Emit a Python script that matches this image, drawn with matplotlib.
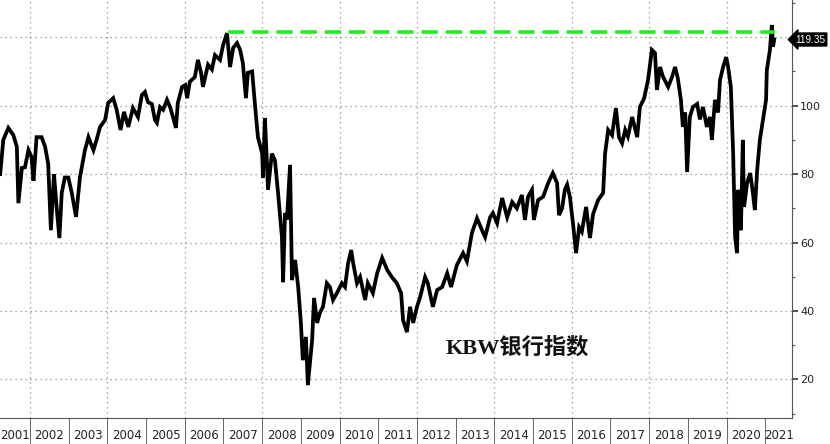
import matplotlib
matplotlib.use("Agg")
import matplotlib.pyplot as plt
import matplotlib.transforms as mtransforms

# KBW bank index (decimal year, index level)
years = [
    2001.23, 2001.31, 2001.44, 2001.57, 2001.66, 2001.70, 2001.79, 2001.87, 2001.96, 2002.04,
    2002.09, 2002.17, 2002.30, 2002.39, 2002.47, 2002.54, 2002.62, 2002.69, 2002.76, 2002.82,
    2002.90, 2002.99, 2003.08, 2003.19, 2003.29, 2003.42, 2003.51, 2003.64, 2003.72, 2003.81,
    2003.94, 2004.02, 2004.15, 2004.24, 2004.34, 2004.43, 2004.54, 2004.66, 2004.79, 2004.89,
    2004.97, 2005.05, 2005.15, 2005.23, 2005.28, 2005.36, 2005.44, 2005.54, 2005.62, 2005.70,
    2005.77, 2005.82, 2005.93, 2006.01, 2006.06, 2006.13, 2006.26, 2006.34, 2006.42, 2006.47,
    2006.60, 2006.70, 2006.78, 2006.91, 2006.99, 2007.09, 2007.17, 2007.25, 2007.35, 2007.43,
    2007.50, 2007.58, 2007.63, 2007.74, 2007.81, 2007.89, 2008.00, 2008.02, 2008.07, 2008.12,
    2008.15, 2008.25, 2008.33, 2008.41, 2008.51, 2008.54, 2008.59, 2008.64, 2008.72, 2008.77,
    2008.85, 2008.93, 2009.00, 2009.05, 2009.13, 2009.18, 2009.29, 2009.34, 2009.42, 2009.49,
    2009.57, 2009.67, 2009.75, 2009.83, 2009.93, 2010.06, 2010.14, 2010.22, 2010.30, 2010.35,
    2010.45, 2010.53, 2010.66, 2010.73, 2010.86, 2010.97, 2011.10, 2011.23, 2011.35, 2011.48,
    2011.59, 2011.64, 2011.74, 2011.82, 2011.90, 2012.00, 2012.08, 2012.21, 2012.28, 2012.41,
    2012.52, 2012.65, 2012.78, 2012.88, 2013.03, 2013.19, 2013.29, 2013.42, 2013.55, 2013.68,
    2013.76, 2013.89, 2013.96, 2014.07, 2014.20, 2014.33, 2014.46, 2014.58, 2014.71, 2014.79,
    2014.87, 2014.97, 2015.02, 2015.13, 2015.26, 2015.39, 2015.51, 2015.62, 2015.67, 2015.75,
    2015.82, 2015.88, 2015.95, 2016.03, 2016.11, 2016.19, 2016.26, 2016.37, 2016.47, 2016.55,
    2016.68, 2016.81, 2016.86, 2016.94, 2017.04, 2017.14, 2017.22, 2017.30, 2017.38, 2017.45,
    2017.56, 2017.69, 2017.76, 2017.87, 2017.97, 2018.07, 2018.15, 2018.20, 2018.28, 2018.36,
    2018.49, 2018.59, 2018.67, 2018.74, 2018.82, 2018.87, 2018.93, 2018.98, 2019.05, 2019.13,
    2019.24, 2019.31, 2019.39, 2019.49, 2019.57, 2019.62, 2019.70, 2019.78, 2019.83, 2019.91,
    2019.99, 2020.04, 2020.11, 2020.17, 2020.22, 2020.27, 2020.30, 2020.37, 2020.42, 2020.45,
    2020.53, 2020.61, 2020.68, 2020.73, 2020.79, 2020.86, 2020.94, 2021.02, 2021.04, 2021.12,
    2021.17, 2021.20, 2021.23,
]
kbw = [
    80.0, 90.0, 93.5, 91.4, 88.0, 71.5, 81.8, 82.0, 87.0, 85.0,
    78.0, 90.8, 90.8, 88.0, 83.0, 63.6, 80.0, 70.0, 61.3, 74.5,
    79.0, 79.0, 74.5, 67.5, 79.0, 87.0, 90.8, 87.0, 90.0, 93.8,
    95.8, 100.8, 102.2, 98.8, 92.9, 98.2, 93.8, 99.3, 96.7, 103.1,
    104.0, 101.0, 100.5, 95.8, 95.0, 99.6, 98.8, 101.7, 99.6, 96.5,
    93.5, 100.8, 105.5, 106.0, 102.2, 107.0, 108.4, 113.4, 109.6, 105.5,
    112.0, 110.6, 114.8, 113.4, 117.7, 121.2, 111.3, 116.9, 118.3, 116.3,
    112.5, 102.2, 109.6, 110.0, 100.8, 90.8, 86.0, 79.0, 96.4, 84.0,
    75.4, 86.0, 84.0, 74.5, 61.6, 48.4, 68.6, 66.7, 82.7, 49.0,
    54.9, 47.0, 36.5, 25.6, 32.4, 18.3, 31.5, 43.8, 36.5, 39.4,
    41.2, 48.1, 47.0, 43.2, 45.2, 48.1, 47.0, 54.0, 57.8, 54.0,
    48.1, 49.9, 43.2, 48.1, 45.2, 51.0, 55.5, 52.0, 49.9, 48.1,
    45.2, 37.3, 33.8, 41.2, 36.5, 41.2, 44.0, 49.9, 48.1, 41.2,
    46.1, 47.0, 51.0, 47.0, 53.4, 56.9, 54.5, 62.8, 67.1, 63.6,
    61.6, 67.4, 68.6, 65.7, 73.0, 67.4, 71.8, 70.0, 73.9, 66.6,
    73.4, 75.4, 66.6, 72.4, 73.4, 77.4, 80.3, 77.4, 68.0, 70.0,
    75.4, 76.9, 73.4, 65.7, 56.9, 64.5, 63.2, 70.4, 61.3, 68.3,
    72.4, 74.5, 86.0, 92.9, 91.4, 99.3, 90.8, 89.0, 92.9, 91.0,
    96.7, 90.8, 99.6, 102.2, 107.5, 116.3, 115.4, 104.6, 111.3, 108.4,
    105.5, 108.4, 111.3, 108.0, 101.7, 93.8, 98.0, 80.6, 96.7, 99.6,
    100.5, 96.0, 99.6, 93.8, 96.7, 90.0, 101.7, 98.0, 107.5, 111.3,
    114.2, 111.3, 105.5, 86.0, 61.6, 56.9, 75.4, 63.6, 90.0, 70.4,
    77.4, 80.3, 74.5, 69.5, 81.2, 90.0, 95.8, 101.7, 110.4, 116.3,
    123.6, 117.2, 119.35,
]
prev_high = 121.5
high_start, high_end = 2007.12, 2021.25
last_value = 119.35
label_years = list(range(2001, 2022))
y_major = [20, 40, 60, 80, 100, 120]
y_minor = [10, 30, 50, 70, 90, 110, 130]

fig = plt.figure(figsize=(8.30, 4.44), dpi=100)
ax = fig.add_axes([0.0, 0.0586, 0.9542, 0.9414])

ax.plot(years, kbw, color="black", lw=2.7, solid_joinstyle="miter", zorder=3)
ax.hlines(prev_high, high_start, high_end, colors="#22ee22", lw=2.6,
          linestyles=(0, (4.5, 2.2)), zorder=4)

ax.set_xlim(2001.225, 2021.69)
ax.set_ylim(8.7, 130.9)

for s in ["left", "top"]:
    ax.spines[s].set_visible(False)
ax.spines["right"].set_color("#555555")
ax.spines["bottom"].set_color("#555555")

# grid
for v in y_major:
    ax.axhline(v, color="#888888", lw=0.9, ls=(0, (1, 3)), zorder=1)
for yr in range(2002, 2021, 2):
    ax.axvline(yr, color="#888888", lw=0.9, ls=(0, (1, 3)), zorder=1)

# right axis
ax.yaxis.tick_right()
ax.set_yticks(y_major)
ax.set_yticklabels([str(v) if v < 120 else "" for v in y_major])
ax.set_yticks(y_minor, minor=True)
ax.tick_params(axis="y", which="major", direction="out", length=4, width=1.2,
               color="#333333", labelsize=8, pad=2, labelcolor="#222222")
ax.tick_params(axis="y", which="minor", direction="out", length=2.5, width=0.8,
               color="#555555")

# year strip at bottom
ax.set_xticks(range(2002, 2022))
ax.set_xticklabels([])
ax.tick_params(axis="x", which="major", direction="out", length=19, width=0.7,
               color="#666666")
xmin, xmax = ax.get_xlim()
label_pos = [min(y + 0.5, (y + xmax) / 2) for y in label_years]
label_pos[0] = (xmin + 2002) / 2
ax.set_xticks(label_pos, minor=True)
ax.set_xticklabels([str(y) for y in label_years], minor=True,
                   family=["Liberation Sans Narrow", "DejaVu Sans"], fontsize=8.5,
                   color="#222222")
ax.tick_params(axis="x", which="minor", length=0, pad=8)

# last value tag
trans = mtransforms.blended_transform_factory(ax.transAxes, ax.transData)
ax.text(1.004, last_value, f"{last_value:.2f}", transform=trans, color="white",
        fontsize=7.2, va="center", ha="left", clip_on=False,
        family=["Liberation Sans", "DejaVu Sans"],
        bbox=dict(boxstyle="larrow,pad=0.15", fc="black", ec="black"))

ax.text(0.653, 0.167, "KBW银行指数", transform=ax.transAxes, ha="center", va="center",
        fontsize=16, fontweight="bold",
        family=["Liberation Serif", "Noto Sans CJK SC"], color="#111111")

fig.savefig("out.png", dpi=100)
